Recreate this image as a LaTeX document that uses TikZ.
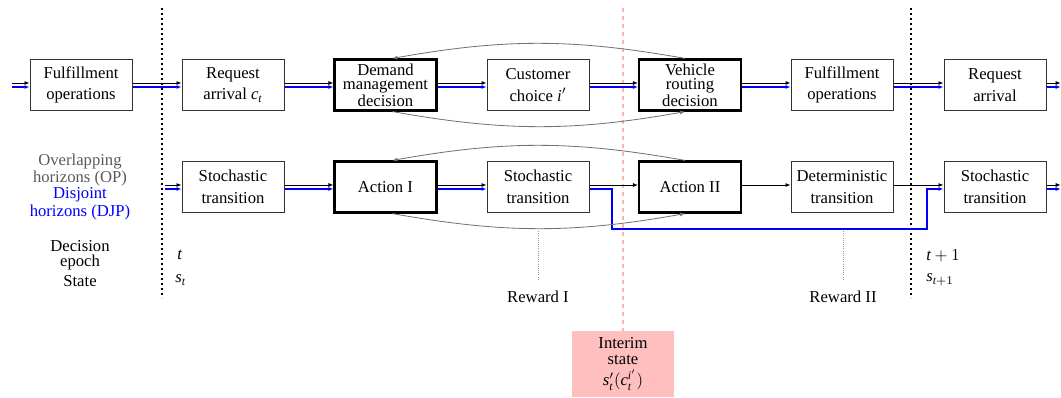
\documentclass[tikz,border=0pt]{standalone}
\usepackage{fontspec}
\setmainfont{Liberation Serif}
\usepackage{amsmath}
\usetikzlibrary{arrows.meta,calc}

\begin{document}
\begin{tikzpicture}[x=0.6pt,y=-0.6pt,
  every node/.style={font=\fontsize{10}{13}\selectfont, align=center, inner sep=0pt},
  box/.style={draw=black!80, line width=0.6pt, minimum width=61.2pt, minimum height=30.6pt},
  decbox/.style={box, draw=black, line width=1.3pt},
  tight/.style={font=\fontsize{10}{8.5}\selectfont},
  endpt/.style={inner sep=0pt, minimum size=0pt},
  tip/.style={-{Latex[length=3pt,width=2.4pt]}},
  blk/.style={tip, black, line width=0.5pt},
  blu/.style={tip, blue, line width=0.7pt},
  loopline/.style={tip, black!55, line width=0.5pt},
  sepline/.style={black, line width=1.1pt, dash pattern=on 1.4pt off 1.6pt},
  interimline/.style={red!30, line width=0.8pt, dash pattern=on 2.4pt off 2.4pt},
  rewardline/.style={black!40, line width=0.4pt, dash pattern=on 0.5pt off 0.8pt},
]
\useasboundingbox (0,0) rectangle (1061,398);

% period separators
\draw[sepline] (162,8) -- (162,298);
\draw[sepline] (911,8) -- (911,298);

% upper row: operational view
\node[endpt] (in1) at (12,85) {};
\node[box] (ful1) at (81,85) {Fulfillment\\operations};
\node[box] (req1) at (233,85) {Request\\arrival $\textit{c}_{\textit{t}}$};
\node[decbox, tight] (dmd) at (385.5,85) {Demand\\management\\decision};
\node[box] (cc) at (538,85) {Customer\\choice $\textit{i}'$};
\node[decbox, tight] (vr) at (690,85) {Vehicle\\routing\\decision};
\node[box] (ful2) at (842,85) {Fulfillment\\operations};
\node[box] (req2) at (995,85) {Request\\arrival};
\node[endpt] (out1) at (1061,85) {};

% lower row: decision process view
\node[endpt] (in2) at (165,187) {};
\node[box] (st1) at (233,187) {Stochastic\\transition};
\node[decbox] (a1) at (385.5,187) {Action I};
\node[box] (st2) at (538,187) {Stochastic\\transition};
\node[decbox] (a2) at (690,187) {Action II};
\node[box] (det) at (842,187) {Deterministic\\transition};
\node[box] (st3) at (995,187) {Stochastic\\transition};
\node[endpt] (out2) at (1061,187) {};

% interim state
\node[fill=red!25, minimum width=61.2pt, minimum height=39.6pt,
      font=\fontsize{10}{9.6}\selectfont] (int) at (623,364)
  {Interim\\state\\[3pt]$\textit{s}'_{\textit{t}}(\textit{c}^{\textit{i}'}_{\textit{t}})$};
\coordinate (ptop) at (623,8);
\draw[interimline] (ptop) -- (int.north);

% paired flows: black (OP) above, blue (DJP) below
\foreach \a/\b in {in1/ful1, ful1/req1, req1/dmd, dmd/cc, cc/vr, vr/ful2, ful2/req2, req2/out1,
                   in2/st1, st1/a1, a1/st2, st3/out2} {
  \draw[blk] ([yshift=1.2pt]\a.east) -- ([yshift=1.2pt]\b.west);
  \draw[blu] ([yshift=-1.2pt]\a.east) -- ([yshift=-1.2pt]\b.west);
}
% OP only
\foreach \a/\b in {st2/a2, a2/det, det/st3} {
  \draw[blk] ([yshift=1.2pt]\a.east) -- ([yshift=1.2pt]\b.west);
}
% DJP skips the second decision
\coordinate (d1) at (612,229);
\coordinate (d2) at (927,229);
\draw[blu] ([yshift=-1.2pt]st2.east) -| (d1) -- (d2) |- ([yshift=-1.2pt]st3.west);

% linked decisions
\draw[loopline] ($(vr.north)+(-5,0)$) .. controls +(-112,-20) and +(112,-20) .. ($(dmd.north)+(7,0)$);
\draw[loopline] ($(dmd.south)+(7,0)$) .. controls +(112,20) and +(-112,20) .. ($(vr.south)+(-5,0)$);
\draw[loopline] ($(a2.north)+(-5,0)$) .. controls +(-112,-20) and +(112,-20) .. ($(a1.north)+(7,0)$);
\draw[loopline] ($(a1.south)+(7,0)$) .. controls +(112,20) and +(-112,20) .. ($(a2.south)+(-5,0)$);

% rewards
\node (rw1) at (538,297) {Reward I};
\node (rw2) at (843,297) {Reward II};
\draw[rewardline] (538,231) -- (538,280);
\draw[rewardline] (843,231) -- (843,280);

% row legends
\node[text=black!65, font=\fontsize{10}{10.5}\selectfont] (op) at (80,170) {Overlapping\\horizons (OP)};
\node[text=blue, font=\fontsize{10}{10.5}\selectfont] (djp) at (80,204) {Disjoint\\horizons (DJP)};
\node[font=\fontsize{10}{9}\selectfont] (ep) at (80,255) {Decision\\epoch};
\node (stl) at (80,281) {State};

% epochs and states
\node[anchor=west] (t0) at (177,255) {$\textit{t}$};
\node[anchor=west] (s0) at (175,280) {$\textit{s}_{\textit{t}}$};
\node[anchor=west] (t1) at (926,256) {$\textit{t}+1$};
\node[anchor=west] (s1) at (926,280) {$\textit{s}_{\textit{t}+1}$};
\end{tikzpicture}
\end{document}
